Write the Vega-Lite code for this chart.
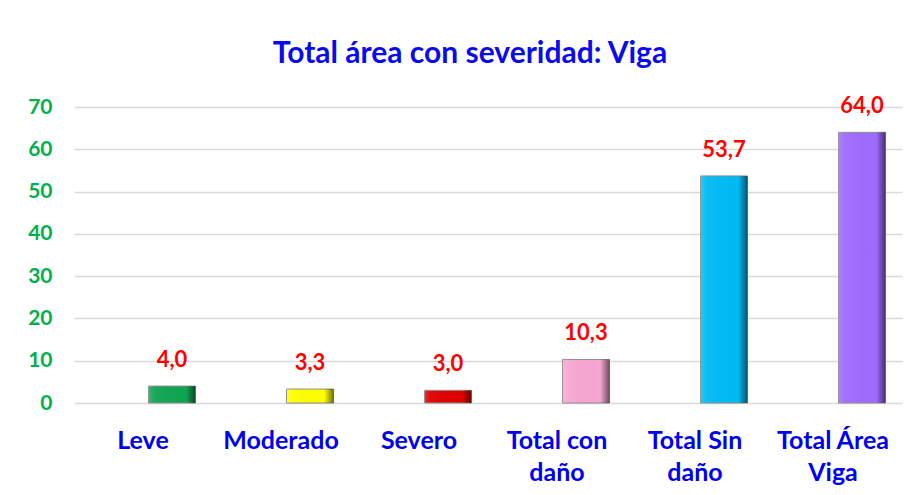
{
  "$schema": "https://vega.github.io/schema/vega-lite/v6.json",
  "autosize": "none",
  "width": 828,
  "height": 296,
  "padding": {"left": 74, "top": 107, "right": 14, "bottom": 92},
  "background": "white",
  "title": {
    "text": "Total área con severidad: Viga",
    "font": "Lato",
    "fontSize": 30,
    "fontWeight": "bold",
    "color": "#0A0AEE",
    "anchor": "middle",
    "dx": -18,
    "baseline": "alphabetic",
    "offset": 2
  },
  "data": {
    "values": [
      {"categoria": "Leve", "valor": 4.0},
      {"categoria": "Moderado", "valor": 3.3},
      {"categoria": "Severo", "valor": 3.0},
      {"categoria": "Total con daño", "valor": 10.3},
      {"categoria": "Total Sin daño", "valor": 53.7},
      {"categoria": "Total Área Viga", "valor": 64.0}
    ]
  },
  "config": {
    "view": {"stroke": null},
    "font": "Lato",
    "locale": {
      "number": {"decimal": ",", "thousands": ".", "grouping": [3], "currency": ["", " €"]}
    }
  },
  "encoding": {
    "x": {
      "field": "categoria",
      "type": "nominal",
      "sort": null,
      "scale": {"paddingInner": 0.2, "paddingOuter": 0.1},
      "axis": {
        "title": null,
        "domain": false,
        "ticks": false,
        "labelAngle": 0,
        "labelFont": "Lato",
        "labelFontSize": 25,
        "labelFontWeight": "bold",
        "labelColor": "#0000F0",
        "labelPadding": 25,
        "labelBaseline": "top",
        "labelLineHeight": 32,
        "labelExpr": "length(split(datum.label, ' ')) > 2 ? [join(slice(split(datum.label, ' '), 0, 2), ' '), split(datum.label, ' ')[2]] : datum.label"
      }
    },
    "y": {
      "field": "valor",
      "type": "quantitative",
      "scale": {"domain": [0, 70], "nice": false},
      "axis": {
        "title": null,
        "values": [0, 10, 20, 30, 40, 50, 60, 70],
        "domain": false,
        "ticks": false,
        "grid": true,
        "gridColor": "#D9D9D9",
        "gridWidth": 1.5,
        "labelFont": "Lato",
        "labelFontSize": 21,
        "labelFontWeight": "bold",
        "labelColor": "#00B050",
        "labelPadding": 22
      }
    }
  },
  "layer": [
    {
      "mark": {"type": "bar", "width": 47, "xOffset": 29, "stroke": "#8C8C8C", "strokeWidth": 1},
      "encoding": {
        "color": {
          "field": "categoria",
          "type": "nominal",
          "sort": null,
          "scale": {"range": ["#0FA552", "#FFFF00", "#E00000", "#F7A6D2", "#00BBF5", "#9E6BFF"]},
          "legend": null
        }
      }
    },
    {
      "mark": {
        "type": "bar",
        "width": 47,
        "xOffset": 29,
        "fill": {
          "gradient": "linear",
          "x1": 0, "y1": 0, "x2": 1, "y2": 0,
          "stops": [
            {"offset": 0, "color": "rgba(255,255,255,0.18)"},
            {"offset": 0.12, "color": "rgba(255,255,255,0.05)"},
            {"offset": 0.8, "color": "rgba(0,0,0,0)"},
            {"offset": 1, "color": "rgba(0,0,0,0.55)"}
          ]
        }
      },
      "encoding": {}
    },
    {
      "mark": {"type": "text", "xOffset": 29, "dy": -19, "baseline": "alphabetic", "font": "Lato", "fontSize": 22, "fontWeight": "bold", "color": "#FF0000"},
      "encoding": {
        "text": {"field": "valor", "type": "quantitative", "format": ".1f"}
      }
    }
  ]
}
